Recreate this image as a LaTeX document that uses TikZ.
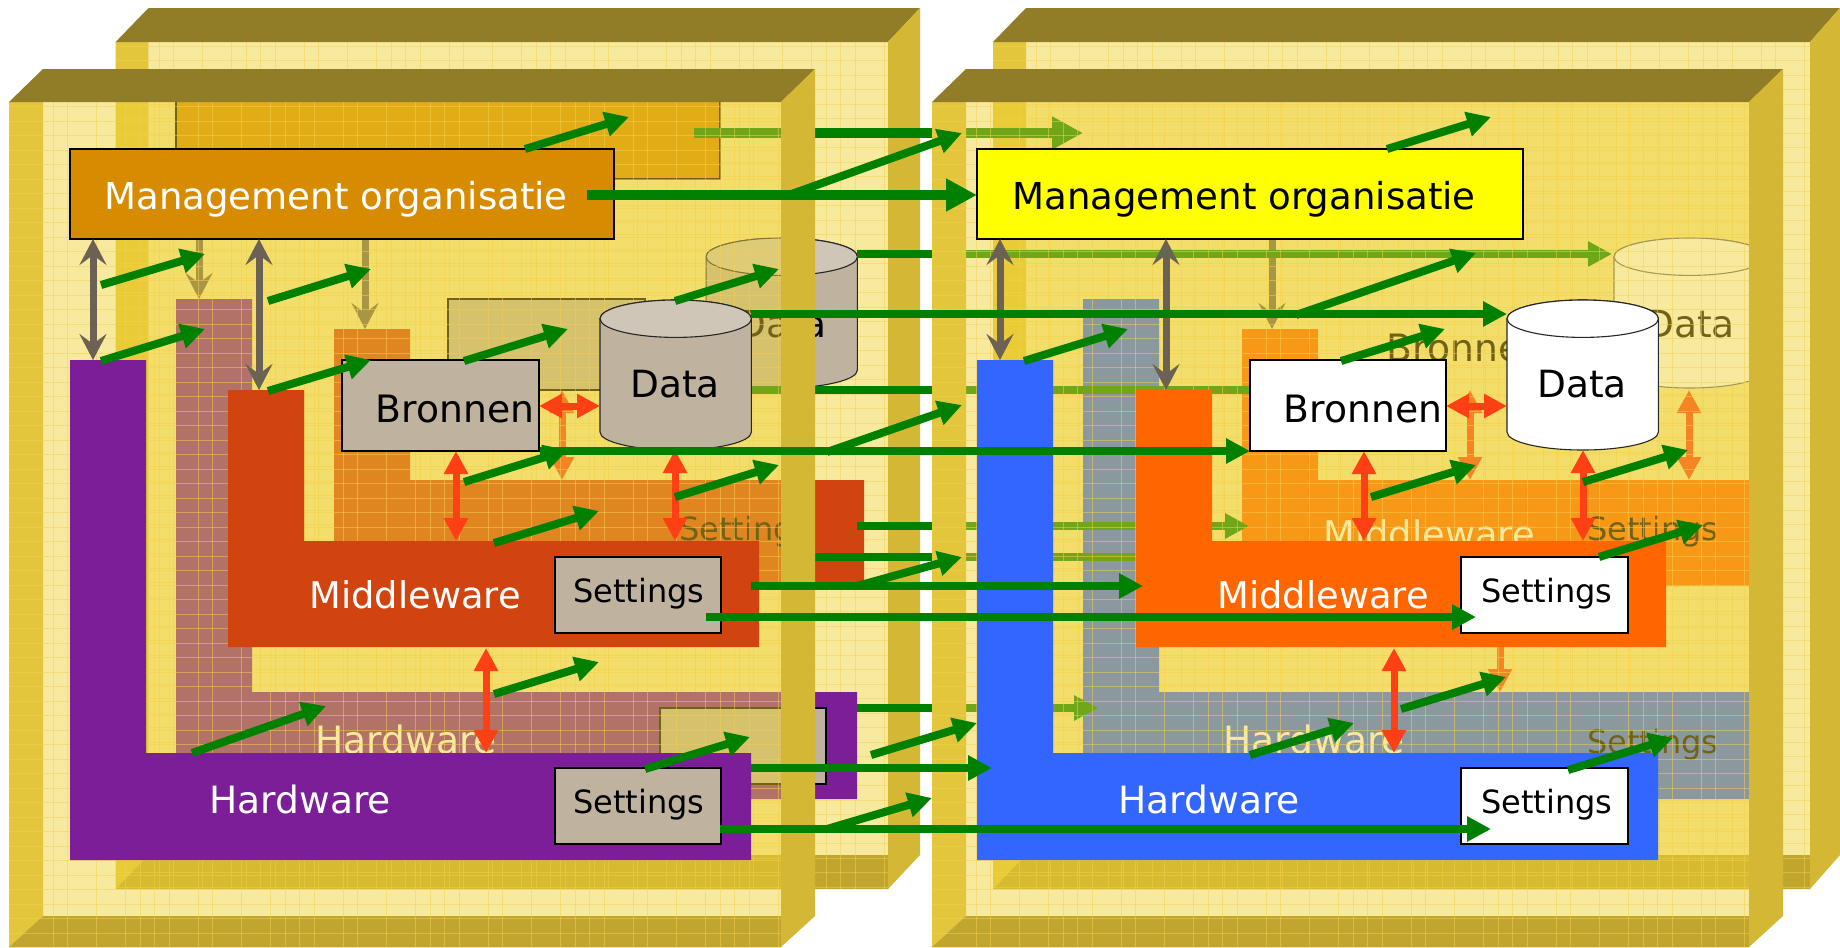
\documentclass[tikz,border=0pt]{standalone}
\usepackage{fontspec}
\setmainfont{DejaVu Sans}
\usetikzlibrary{arrows.meta}
\definecolor{wallov}{RGB}{240,210,50}
\definecolor{gridc}{RGB}{245,208,80}
\definecolor{panleft}{HTML}{E3C63C}
\definecolor{pantop}{HTML}{917D28}
\definecolor{panright}{HTML}{D4B735}
\definecolor{panbot}{HTML}{C0A62E}
\definecolor{tanbox}{HTML}{BFB3A0}
\definecolor{tantop}{HTML}{CFC6B8}
\definecolor{purp}{HTML}{7B1E97}
\definecolor{rust}{HTML}{D14410}
\definecolor{bluebar}{HTML}{3366FF}
\definecolor{orangebar}{HTML}{FF6600}
\definecolor{ochre}{HTML}{D78B00}
\definecolor{greyarr}{HTML}{6B6254}
\definecolor{redarr}{HTML}{FF4015}
\definecolor{greenarr}{HTML}{008000}
\definecolor{brightyellow}{RGB}{255,255,0}
\tikzset{
  garrow/.style={draw=greenarr,line width=8pt,-{Triangle[length=24pt,width=24pt]}},
  gthick/.style={draw=greenarr,line width=10.5pt,-{Triangle[length=31pt,width=31pt]}},
  gline/.style={draw=greenarr,line width=8pt},
  gyarrow/.style={draw=greyarr,line width=7pt,{Stealth[length=26pt,width=27pt,inset=10pt]}-{Stealth[length=26pt,width=27pt,inset=10pt]}},
  rarrow/.style={draw=redarr,line width=7pt,{Triangle[length=23pt,width=23pt]}-{Triangle[length=23pt,width=23pt]}},
  boxnode/.style={draw=black,line width=2.5pt,inner sep=0pt,outer sep=0pt,anchor=north west},
  sharedtxt/.style={inner sep=0pt,anchor=base},
  bigtxt/.style={sharedtxt,font=\fontsize{36.8}{40}\selectfont},
  mgtxt/.style={sharedtxt,font=\fontsize{37.1}{40}\selectfont},
  hwtxt/.style={sharedtxt,font=\fontsize{37.6}{40}\selectfont},
  settxt/.style={sharedtxt,font=\fontsize{32}{36}\selectfont},
  brontxt/.style={sharedtxt,font=\fontsize{37.7}{40}\selectfont},
  datatxt/.style={sharedtxt,font=\fontsize{37.5}{40}\selectfont},
}
% name x1 y1 x2 y2 options
\newcommand{\RBox}[6]{\node[boxnode,minimum width={(#4-#2)*1pt},minimum height={(#5-#3)*1pt},#6] (#1) at (#2,#3) {};}
% style name (x1,y1) (x2,y2)
\newcommand{\Conn}[4]{\coordinate (#2s) at (#3); \coordinate (#2e) at (#4); \draw[#1] (#2s) -- (#2e);}
% name colour xl xi y0 yk yb xr
\newcommand{\LShape}[8]{\fill[#2] (#3,#5) -- (#4,#5) -- (#4,#6) -- (#8,#6) -- (#8,#7) -- (#3,#7) -- cycle; \coordinate (#1) at (#3,#5);}
% name x y body top outline
\newcommand{\Cyl}[6]{\node[inner sep=0pt,outer sep=0pt,anchor=north west,minimum width=151.4pt,minimum height=150pt] (#1) at (#2,#3) {};
 \begin{scope}[shift={(#2,#3)}]
 \draw[draw=#6,line width=1.1pt,fill=#4] (0,18.7) -- (0,132) .. controls (0,142) and (33.9,150) .. (75.7,150) .. controls (117.5,150) and (151.4,142) .. (151.4,132) -- (151.4,18.7) .. controls (151.4,8.4) and (117.5,0) .. (75.7,0) .. controls (33.9,0) and (0,8.4) .. (0,18.7) -- cycle;
 \draw[draw=#6,line width=1.1pt,fill=#5] (0,18.7) .. controls (0,29) and (33.9,37.4) .. (75.7,37.4) .. controls (117.5,37.4) and (151.4,29) .. (151.4,18.7) .. controls (151.4,8.4) and (117.5,0) .. (75.7,0) .. controls (33.9,0) and (0,8.4) .. (0,18.7) -- cycle;
 \end{scope}}
% xl xi xr xo ty fy iby by
\newcommand{\PanelsBack}[8]{
 \fill[panleft] (#1,#6) -- (#2,#6) -- (#2,#7) -- (#1,#8) -- cycle;
 \fill[panbot] (#1,#8) -- (#2,#7) -- (#3,#7) -- (#3,#8) -- cycle;}
\newcommand{\PanelsFront}[8]{
 \fill[pantop] (#1,#6) -- (#2,#5) -- (#4,#5) -- (#3,#6) -- cycle;
 \fill[panright] (#3,#6) -- (#4,#5) -- (#4,#7) -- (#3,#8) -- cycle;}
\newcommand{\Wall}[4]{\fill[wallov,opacity=.47] (#1,#2) rectangle (#3,#4);}
% xclipL yT xclipR yB x0 y0
\newcommand{\GridLines}[6]{
 \begin{scope}
 \clip (#1,#2) rectangle (#3,#4);
 \foreach \j in {0,...,5} \foreach \k in {0,1,3,5,6,7,8}
   \draw[gridc,opacity=.5,line width=1pt] ({#5+(10*\j+\k)*14.5},#2) -- ({#5+(10*\j+\k)*14.5},#4);
 \foreach \j in {0,...,58}
   \draw[gridc,opacity=.5,line width=1pt] (#1,{#6+\j*14.5}) -- (#3,{#6+\j*14.5});
 \end{scope}}
\begin{document}
\begin{tikzpicture}[x=1pt,y=-1pt]
\useasboundingbox (0,0) rectangle (1840,948);
\fill[white] (0,0) rectangle (1840,948);

%% ---- back box left (B) and back box right (D) shells
\Wall{148.5}{42}{888}{855}
\Wall{1026}{42}{1810}{855}
\PanelsBack{115.6}{148.5}{888}{920}{8}{42}{855}{889}
\PanelsBack{993}{1026}{1810}{1840}{8}{42}{855}{889}
\GridLines{115.6}{42}{888}{889}{159}{46}
\GridLines{993}{42}{1810}{889}{1036}{46}
\PanelsFront{115.6}{148.5}{888}{920}{8}{42}{855}{889}
\PanelsFront{993}{1026}{1810}{1840}{8}{42}{855}{889}

%% ---- content of B
\LShape{hwB}{purp}{176}{252}{299}{692}{799}{857}
\LShape{mwB}{rust}{334}{410}{329}{480}{586}{864}
\RBox{mgB}{176}{88}{720}{179}{fill=ochre}
\RBox{brB}{448}{299}{645}{390}{fill=tanbox}
\RBox{stB}{660}{708}{826}{784}{fill=tanbox}
\Cyl{dtB}{706}{238}{tanbox}{tantop}{black!85}
\node[datatxt] (dtBt) at (782,337) {Data};
\node[settxt,text=black] (stBm) at (745,540) {Settings};
\node[hwtxt,text=white] (hwBt) at (406,753) {Hardware};
\coordinate (hwBtop) at (199,299);
\coordinate (mwBtop) at (365,329);
\draw[gyarrow] (mgB.south -| hwBtop) -- (hwBtop);
\draw[gyarrow] (mgB.south -| mwBtop) -- (mwBtop);
\coordinate (mwBknee) at (562,480);
\draw[rarrow] (brB.south -| mwBknee) -- (mwBknee);

%% ---- content of D
\LShape{hwD}{bluebar}{1083}{1159}{299}{692}{799}{1764}
\LShape{mwD}{orangebar}{1242}{1318}{329}{480}{586}{1772}
\Cyl{dtD}{1614}{238}{white}{white}{black!60}
\node[datatxt] (dtDt) at (1690,337) {Data};
\node[brontxt] (brDt) at (1466,361) {Bronnen};
\node[settxt] (stDm) at (1653,540) {Settings};
\node[settxt] (stDh) at (1653,753) {Settings};
\node[bigtxt,text=white] (mwDt) at (1429,547) {Middleware};
\node[hwtxt,text=white] (hwDt) at (1314,753) {Hardware};
\Conn{gyarrow}{gyD}{1272,179}{1272,329}
\Conn{rarrow}{orD1}{1470,390}{1470,480}
\Conn{rarrow}{orD2}{1689,390}{1689,480}
\Conn{rarrow}{orD3}{1500,587}{1500,692}

%% ---- back-layer green connectors
\Conn{gthick}{bg1}{694,133}{1083,133}
\Conn{garrow}{bg2}{857,254}{1612,254}
\Conn{gline}{bg3}{751,390}{1260,390}
\Conn{garrow}{bg4}{857,526}{1249,526}
\Conn{gline}{bg5}{785,557}{1140,557}
\Conn{garrow}{bg6}{857,708}{1098,708}

%% ---- front box shells
\Wall{43}{102}{781}{916}
\Wall{966}{102}{1749}{916}
\PanelsBack{9}{43}{781}{815}{69}{102}{916}{947}
\PanelsBack{932}{966}{1749}{1783}{69}{102}{916}{947}
\GridLines{9}{102}{781}{947}{53}{106.7}
\GridLines{932}{102}{1749}{947}{976}{106.7}
\PanelsFront{9}{43}{781}{815}{69}{102}{916}{947}
\PanelsFront{932}{966}{1749}{1783}{69}{102}{916}{947}

%% ---- content of A
\LShape{hwA}{purp}{70}{146}{360}{753}{860}{751}
\LShape{mwA}{rust}{228}{304}{390}{541}{647}{759}
\RBox{mgA}{70}{149}{614}{239}{fill=ochre}
\RBox{brA}{342}{360}{539}{451}{fill=tanbox}
\RBox{stAm}{555}{557}{721}{633}{fill=tanbox}
\RBox{stAh}{555}{768}{721}{844}{fill=tanbox}
\Cyl{dtA}{600}{300}{tanbox}{tantop}{black!85}
\node[mgtxt,text=white] (mgAt) at (336,209) {Management organisatie};
\node[brontxt] (brAt) at (455,422) {Bronnen};
\node[datatxt] (dtAt) at (675,397) {Data};
\node[settxt] (stAmt) at (639,602) {Settings};
\node[settxt] (stAht) at (639,813) {Settings};
\node[bigtxt,text=white] (mwAt) at (415,608) {Middleware};
\node[hwtxt,text=white] (hwAt) at (300,813) {Hardware};

%% ---- content of C
\LShape{hwC}{bluebar}{977}{1053}{360}{753}{860}{1658}
\LShape{mwC}{orangebar}{1136}{1212}{390}{541}{647}{1666}
\RBox{mgC}{977}{149}{1523}{239}{fill=brightyellow}
\RBox{brC}{1250}{360}{1446}{451}{fill=white}
\RBox{stCm}{1461}{557}{1628}{633}{fill=white}
\RBox{stCh}{1461}{768}{1628}{844}{fill=white}
\Cyl{dtC}{1507}{300}{white}{white}{black!85}
\node[mgtxt] (mgCt) at (1244,209) {Management organisatie};
\node[brontxt] (brCt) at (1363,422) {Bronnen};
\node[datatxt] (dtCt) at (1582,397) {Data};
\node[settxt] (stCmt) at (1547,602) {Settings};
\node[settxt] (stCht) at (1547,813) {Settings};
\node[bigtxt,text=white] (mwCt) at (1323,608) {Middleware};
\node[hwtxt,text=white] (hwCt) at (1209,813) {Hardware};

%% ---- grey double arrows
\coordinate (hwAk) at (93,360);
\coordinate (mwAk) at (259,390);
\coordinate (hwCk) at (1000,360);
\coordinate (mwCk) at (1166,390);
\draw[gyarrow] (mgA.south -| hwAk) -- (hwAk);
\draw[gyarrow] (mgA.south -| mwAk) -- (mwAk);
\draw[gyarrow] (mgC.south -| hwCk) -- (hwCk);
\draw[gyarrow] (mgC.south -| mwCk) -- (mwCk);

%% ---- red double arrows
\draw[rarrow] (brA.east |- 0,406) -- (dtA.west |- 0,406);
\draw[rarrow] (brC.east |- 0,406) -- (dtC.west |- 0,406);
\coordinate (mA1) at (456,541); \coordinate (mA2) at (675,541); \coordinate (mA3) at (486,648);
\coordinate (hA3) at (486,753);
\draw[rarrow] (brA.south -| mA1) -- (mA1);
\draw[rarrow] (dtA.south -| mA2) -- (mA2);
\draw[rarrow] (mA3) -- (hA3);
\coordinate (mC1) at (1364,541); \coordinate (mC2) at (1583,541); \coordinate (mC3) at (1394,648);
\coordinate (hC3) at (1394,753);
\draw[rarrow] (brC.south -| mC1) -- (mC1);
\draw[rarrow] (dtC.south -| mC2) -- (mC2);
\draw[rarrow] (mC3) -- (hC3);

%% ---- long front green arrows
\Conn{gthick}{lg1}{587,195}{mgC.west |- 0,195}
\Conn{garrow}{lg1b}{786,196}{962,133}
\Conn{garrow}{lg2}{751,314}{1507,314}
\Conn{garrow}{lg2b}{1296,315}{1476,253}
\Conn{garrow}{lg3}{540,451}{1250,451}
\Conn{garrow}{lg3b}{827,452}{962,405}
\Conn{garrow}{lg4}{751,586}{1143,586}
\Conn{garrow}{lg4b}{857,586}{962,557}
\Conn{garrow}{lg5}{706,617}{1476,617}
\Conn{garrow}{lg6}{751,768}{992,768}
\Conn{garrow}{lg7}{720,829}{1491,829}
\Conn{garrow}{lg7b}{827,829}{932,798}
\Conn{garrow}{lg8}{871,755}{977,723}

%% ---- short slanted green arrows, left
\Conn{garrow}{s1}{525,149}{629,117}
\Conn{garrow}{s2}{101,285}{205,254}
\Conn{garrow}{s3}{101,361}{205,329}
\Conn{garrow}{s4}{268,301}{371,269}
\Conn{garrow}{s5}{268,391}{371,360}
\Conn{garrow}{s6}{464,361}{568,329}
\Conn{garrow}{s7}{675,301}{779,269}
\Conn{garrow}{s8}{464,482}{568,450}
\Conn{garrow}{s9}{675,497}{779,465}
\Conn{garrow}{s10}{494,543}{599,511}
\Conn{garrow}{s11}{494,694}{599,662}
\Conn{garrow}{s12}{192,753}{326,706}
\Conn{garrow}{s13}{645,769}{750,737}
%% ---- short slanted green arrows, right
\Conn{garrow}{t1}{1387,149}{1491,117}
\Conn{garrow}{t2}{1024,361}{1128,329}
\Conn{garrow}{t3}{1341,361}{1445,329}
\Conn{garrow}{t4}{1371,497}{1476,465}
\Conn{garrow}{t5}{1583,482}{1688,450}
\Conn{garrow}{t6}{1599,557}{1703,525}
\Conn{garrow}{t7}{1401,709}{1506,677}
\Conn{garrow}{t8}{1250,755}{1354,723}
\Conn{garrow}{t9}{1568,770}{1673,738}
\end{tikzpicture}
\end{document}
